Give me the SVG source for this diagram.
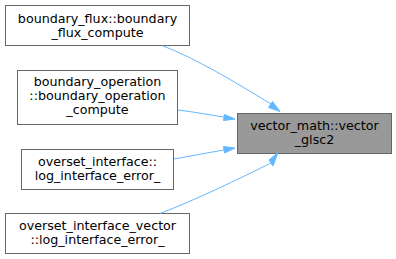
<svg xmlns="http://www.w3.org/2000/svg" width="396" height="259" viewBox="0 0 396 259">
<defs>
<style>
.n rect{fill:#fff;stroke:#666;stroke-width:1}
.n.t rect{fill:#999}
.n text{font-family:"DejaVu Sans",sans-serif;font-size:12.7px;text-anchor:middle;fill:#000}
.e path{fill:none;stroke:#63b8ff;stroke-width:1}
.e polygon{fill:#63b8ff;stroke:#63b8ff}
</style>
</defs>
<rect width="396" height="259" fill="#fff"/>
<g id="node_target" class="n t">
<rect x="237.5" y="113.5" width="154" height="40"/>
<text x="314.5" y="129.5">vector_math::vector</text>
<text x="314.5" y="143.5">_glsc2</text>
</g>
<g id="node1" class="n">
<rect x="5.5" y="5.5" width="184" height="40"/>
<text x="97.5" y="22.5">boundary_flux::boundary</text>
<text x="97.5" y="36.5">_flux_compute</text>
</g>
<g id="node2" class="n">
<rect x="17.5" y="70.5" width="160" height="54"/>
<text x="97.5" y="85.5">boundary_operation</text>
<text x="97.5" y="99.5">::boundary_operation</text>
<text x="97.5" y="113.5">_compute</text>
</g>
<g id="node3" class="n">
<rect x="21.5" y="149.5" width="152" height="40"/>
<text x="97.5" y="165.5">overset_interface::</text>
<text x="97.5" y="179.5">log_interface_error_</text>
</g>
<g id="node4" class="n">
<rect x="5.5" y="213.5" width="184" height="40"/>
<text x="97.5" y="229.5">overset_interface_vector</text>
<text x="97.5" y="243.5">::log_interface_error_</text>
</g>
<g id="edges" class="e">
<path d="M162,45.5 C195,58 235,82 271,104"/>
<polygon points="268.5,107.5 280,111.5 272.5,101.5"/>
<path d="M178,110 C195,112 210,115 224,117"/>
<polygon points="223.5,120.5 235,119 224.5,114.5"/>
<path d="M174,159 C190,156 207,153 224,150"/>
<polygon points="223.5,146.5 235,148 224.5,153"/>
<path d="M160,213.5 C195,200 237,180 271,163"/>
<polygon points="269,160 278,152.5 273,166"/>
</g>
</svg>
